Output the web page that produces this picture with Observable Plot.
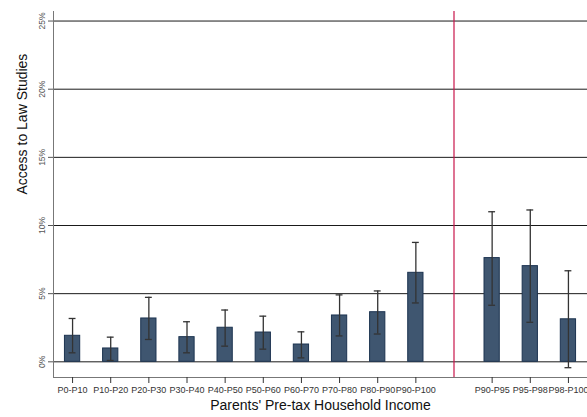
<!DOCTYPE html>
<html><head><meta charset="utf-8">
<script src="https://cdn.jsdelivr.net/npm/d3@7"></script>
<script src="https://cdn.jsdelivr.net/npm/@observablehq/plot@0.6"></script>
<style>body{margin:0;background:#fff;font-family:"Liberation Sans",Arial,sans-serif}</style>
</head><body><div id="chart"></div>
<script>
const categories = ["P0-P10","P10-P20","P20-P30","P30-P40","P40-P50","P50-P60","P60-P70","P70-P80","P80-P90","P90-P100","P90-P95","P95-P98","P98-P100"];
const shares = [1.91, 0.98, 3.18, 1.81, 2.50, 2.15, 1.27, 3.40, 3.64, 6.53, 7.61, 7.02, 3.12];
const lower  = [0.66, 0.10, 1.64, 0.66, 1.15, 0.93, 0.29, 1.90, 2.04, 4.32, 4.15, 2.90, -0.43];
const upper  = [3.18, 1.81, 4.73, 2.94, 3.80, 3.35, 2.20, 4.91, 5.20, 8.76, 11.01, 11.14, 6.68];
const yTicks = [0, 5, 10, 15, 20, 25];
const yTitle = "Access to Law Studies";
const xTitle = "Parents' Pre-tax Household Income";

// first 10 deciles at slots 1..10, top-decile breakdown after a gap (slot 11 = divider)
const pos = categories.map((c, i) => i < 10 ? i + 1 : i + 2);
const divider = [11];
const rows = categories.map((c, i) => ({cat: c, pos: pos[i], v: shares[i], lo: lower[i], hi: upper[i]}));
const labelAt = new Map(rows.map(d => [d.pos, d.cat]));

const chart = Plot.plot({
  width: 587,
  height: 417,
  marginLeft: 53,
  marginRight: 0,
  marginTop: 11,
  marginBottom: 40,
  style: {fontFamily: "'Liberation Sans', Arial, sans-serif", background: "#fff"},
  x: {domain: [0.5, 14.5], axis: null},
  y: {domain: [-1.15, 25.7], axis: null},
  marks: [
    Plot.ruleY(yTicks, {stroke: "#1a1a1a", strokeWidth: 1}),
    Plot.ruleX(divider, {stroke: "#c8154a", strokeWidth: 1.2}),
    Plot.rectY(rows, {x1: d => d.pos - 0.2, x2: d => d.pos + 0.2, y1: 0, y2: "v", fill: "#3f5670", stroke: "#1c3350", strokeWidth: 1}),
    Plot.ruleX(rows, {x: "pos", y1: "lo", y2: "hi", stroke: "#333", strokeWidth: 1.3}),
    Plot.ruleY(rows, {y: "hi", x1: d => d.pos - 0.09, x2: d => d.pos + 0.09, stroke: "#333", strokeWidth: 1.3}),
    Plot.ruleY(rows, {y: "lo", x1: d => d.pos - 0.09, x2: d => d.pos + 0.09, stroke: "#333", strokeWidth: 1.3}),
    Plot.frame({anchor: "left", stroke: "#777"}),
    Plot.frame({anchor: "bottom", stroke: "#777"}),
    Plot.axisY({ticks: yTicks, tickFormat: d => d + "%", tickSize: 5, tickPadding: 4, tickRotate: -90, fontSize: 8.5, color: "#555", label: null}),
    Plot.axisX({ticks: pos, tickFormat: d => labelAt.get(d), tickSize: 6, tickPadding: 3, fontSize: 9, color: "#333", label: null}),
    Plot.text([yTitle], {frameAnchor: "left", rotate: -90, dx: -31, fontSize: 14, fill: "#111"}),
    Plot.text([xTitle], {frameAnchor: "bottom", dy: 32, fontSize: 14, fill: "#111"})
  ]
});
document.getElementById("chart").append(chart);
</script>
</body></html>
